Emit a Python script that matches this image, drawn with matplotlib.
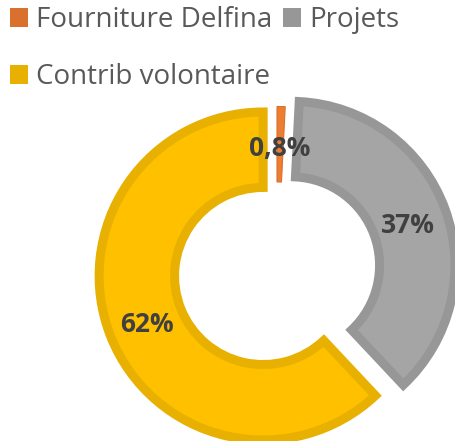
import matplotlib
matplotlib.use("Agg")
import matplotlib.pyplot as plt
from matplotlib.patches import Patch

# data
categories = ['Fourniture Delfina', 'Projets', 'Contrib volontaire']
values = [0.8, 37.2, 62.0]
pct_labels = ['0,8%', '37%', '62%']

fill_colors = ['#ED7D31', '#A5A5A5', '#FFC000']
edge_colors = ['#D9702E', '#979797', '#E8B000']
edge_widths = [0.8, 6.5, 6.5]

plt.rcParams['font.family'] = ['Open Sans', 'DejaVu Sans']

fig = plt.figure(figsize=(4.55, 4.41), dpi=100)
ax = fig.add_axes([0, 0, 1, 1])

lab_iter = iter(pct_labels)
wedges, texts, autotexts = ax.pie(
    values, radius=1.0, startangle=90, counterclock=False,
    explode=[0.0, 0.091, 0.091],
    colors=fill_colors,
    wedgeprops=dict(width=0.46),
    autopct=lambda p: next(lab_iter), pctdistance=0.76,
    textprops=dict(fontsize=19, fontweight='bold', color='#404040'))
for w, ec, lw in zip(wedges, edge_colors, edge_widths):
    w.set_edgecolor(ec)
    w.set_linewidth(lw)
    w.set_joinstyle('miter')
for t in autotexts:
    t.set_va('center_baseline')

# 1 data unit = 164 px, pie centre at pixel (277, 270.5) from top-left
scale = 164.0
ax.set_xlim(-277 / scale, (455 - 277) / scale)
ax.set_ylim(-(441 - 270.5) / scale, 270.5 / scale)
ax.set_aspect('equal')
ax.axis('off')

# legend: order so that column-first fill gives the reference layout
order = [0, 2, 1]
handles = [Patch(facecolor=edge_colors[i], edgecolor='none') for i in order]
labels = [categories[i] for i in order]
leg = fig.legend(handles, labels, loc='upper left',
                 bbox_to_anchor=(10 / 455, 1 - 6 / 441),
                 ncol=2, frameon=False, fontsize=20,
                 handlelength=0.65, handleheight=0.65,
                 handletextpad=0.3, columnspacing=0.36,
                 labelspacing=1.05, borderpad=0, borderaxespad=0)
for t in leg.get_texts():
    t.set_color('#595959')

fig.savefig('out.png', dpi=100)
